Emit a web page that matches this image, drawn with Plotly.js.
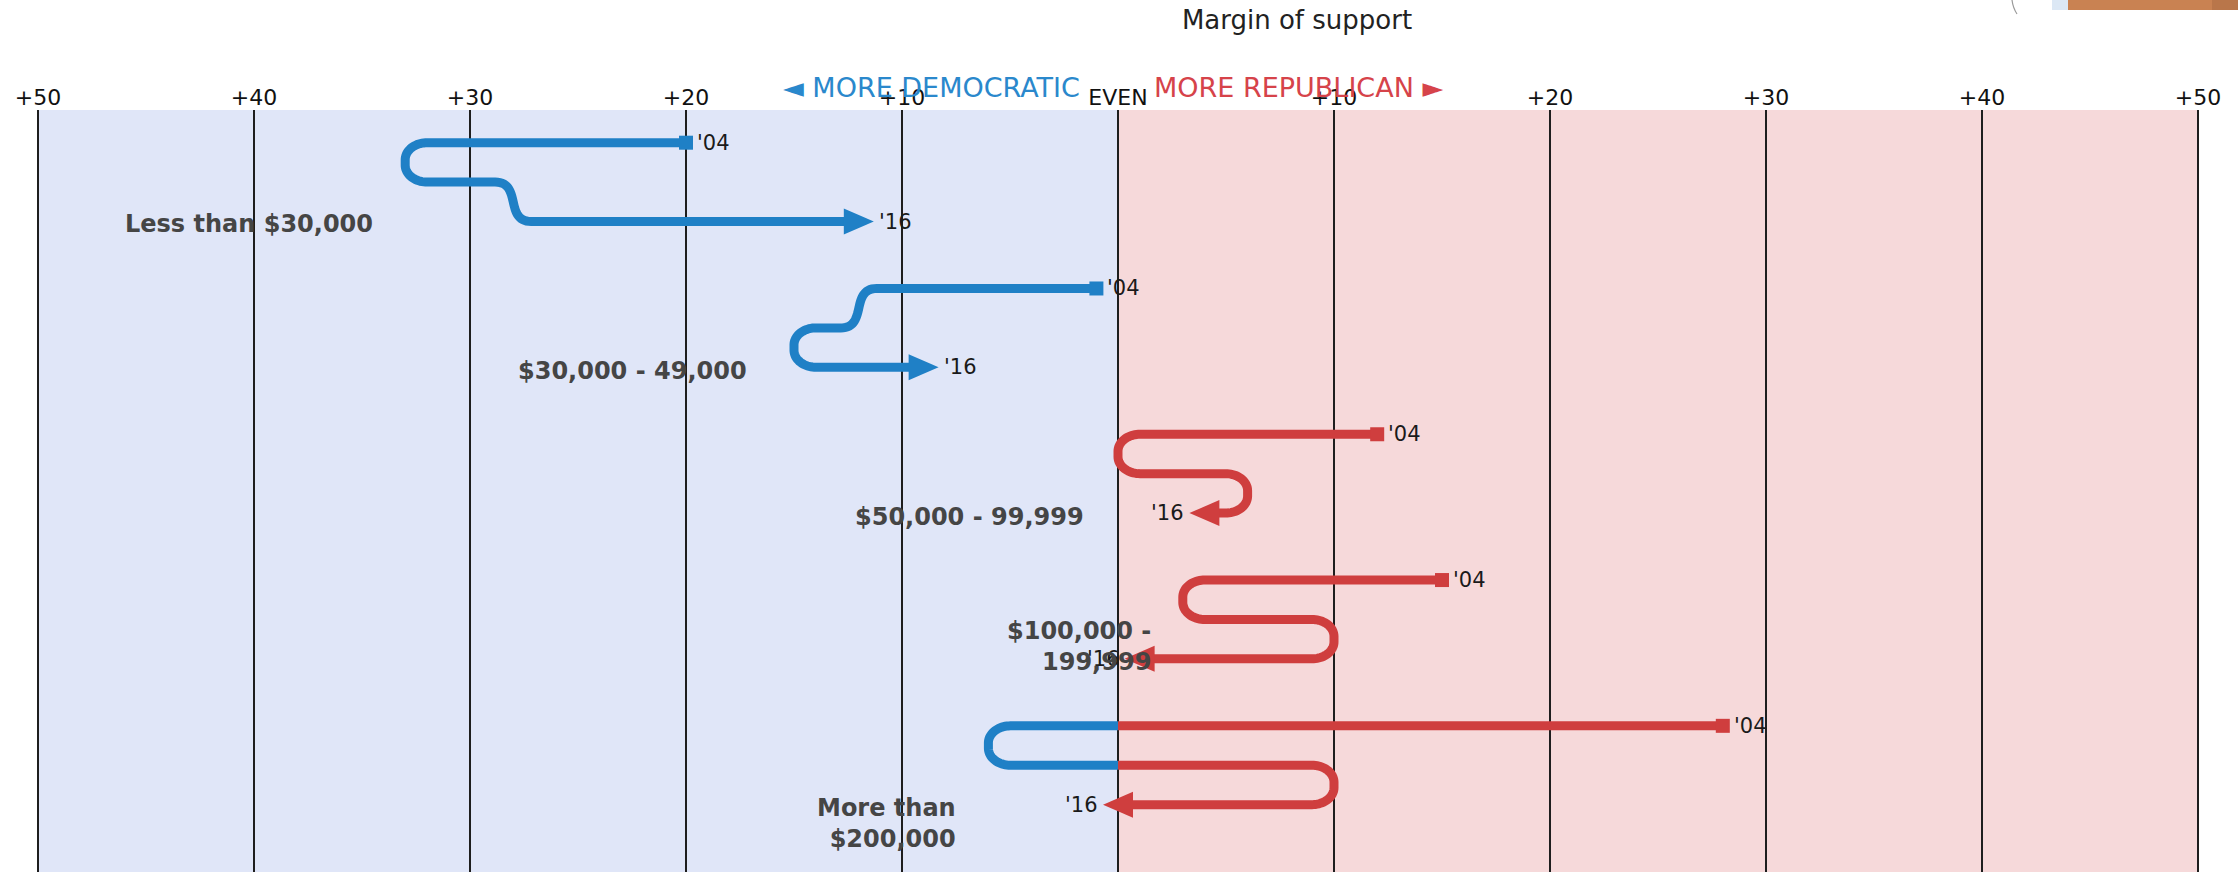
<!DOCTYPE html>
<html><head><meta charset="utf-8">
<script src="https://cdn.plot.ly/plotly-3.0.1.min.js"></script>
<style>html,body{margin:0;padding:0;background:#fff;}#chart{width:2238px;height:872px;}</style>
</head><body><div id="chart"></div>
<script>
// ---------- data ----------
const incomeGroups = ["Less than $30,000", "$30,000 - 49,000", "$50,000 - 99,999", "$100,000 -<br>199,999", "More than<br>$200,000"];
const margin2004 = [-20, -1, 12, 15, 28];   // negative = more Democratic, positive = more Republican
const margin2008 = [-33, -12, 0, 3, -6];
const margin2012 = [-28, -15, 6, 10, 10];
const margin2016 = [-12, -9, 4, 1, 0];
const tickValues = [-50, -40, -30, -20, -10, 0, 10, 20, 30, 40, 50];
const tickLabels = ["+50", "+40", "+30", "+20", "+10", "EVEN", "+10", "+20", "+30", "+40", "+50"];
const startLabel = "'04";
const endLabel = "'16";

// ---------- layout / style ----------
const W = 2238, H = 872, M = {l: 36, r: 38, t: 110, b: 0};
const edgePad = 2 / 21.6;
const xRange = [-50 - edgePad, 50 + edgePad];
const yRange = [18.51, -0.83];
const groupStep = 3.7;
const labelAnchorX = [-34.4, -17.1, -1.5, 1.6, -7.4];
const labelRowOffset = [2.06, 2.09, 2.1, 1.69, 2.49];
const BLUE = '#1f80c6', RED = '#cf3e3e';
const FONT = '"DejaVu Sans", Verdana, sans-serif';
const kx = (W - M.l - M.r) / (xRange[1] - xRange[0]);
const ky = (H - M.t - M.b) / (yRange[0] - yRange[1]);
const RX = 22, RY = 17, SW = 18, AH = 15, AW = 13, LW = 9;

function buildPath(vals, base) {
  const rows = [0, 1, 2].map(r => (base + r) * ky);
  const pts = [[vals[0] * kx, rows[0]]];
  for (let k = 1; k <= 2; k++) {
    const V = vals[k] * kx;
    const d = Math.sign(vals[k] - vals[k - 1]) || 1;
    const dn = Math.sign(vals[k + 1] - vals[k]) || 1;
    const yA = rows[k - 1], yB = rows[k];
    if (dn === d) {
      const P0 = [V - d * SW, yA], P1 = [V + d * 0.5 * SW, yA], P2 = [V - d * 0.5 * SW, yB], P3 = [V + d * SW, yB];
      for (let i = 0; i <= 30; i++) {
        const t = i / 30, u = 1 - t;
        const a = u * u * u, b = 3 * u * u * t, c = 3 * u * t * t, e = t * t * t;
        pts.push([a * P0[0] + b * P1[0] + c * P2[0] + e * P3[0], a * P0[1] + b * P1[1] + c * P2[1] + e * P3[1]]);
      }
    } else {
      const cx = V - d * RX;
      for (let i = 0; i <= 20; i++) {
        const th = i / 20 * Math.PI / 2;
        pts.push([cx + d * RX * Math.sin(th), yA + RY - RY * Math.cos(th)]);
      }
      for (let i = 0; i <= 20; i++) {
        const th = i / 20 * Math.PI / 2;
        pts.push([cx + d * RX * Math.cos(th), yB - RY + RY * Math.sin(th)]);
      }
    }
  }
  const d3 = Math.sign(vals[3] - vals[2]) || 1;
  pts.push([vals[3] * kx - d3 * (AH - 1), rows[2]]);
  return pts.map(p => [p[0] / kx, p[1] / ky]);
}

function splitBySign(pts) {
  const segs = [];
  const isNeg = x => x < -1e-9;
  let cur = [pts[0]], curNeg = isNeg(pts[0][0]);
  for (let i = 1; i < pts.length; i++) {
    const p = pts[i], neg = isNeg(p[0]);
    if (neg === curNeg) { cur.push(p); continue; }
    const q = pts[i - 1];
    const t = (0 - q[0]) / (p[0] - q[0]);
    const c = [0, q[1] + t * (p[1] - q[1])];
    cur.push(c);
    segs.push({neg: curNeg, pts: cur});
    cur = [c, p]; curNeg = neg;
  }
  segs.push({neg: curNeg, pts: cur});
  return segs;
}

const traces = [];
const annotations = [];
incomeGroups.forEach((g, i) => {
  const vals = [margin2004[i], margin2008[i], margin2012[i], margin2016[i]];
  const base = i * groupStep;
  const path = buildPath(vals, base);
  splitBySign(path).forEach(s => {
    traces.push({
      type: 'scatter', mode: 'lines', hoverinfo: 'skip', showlegend: false,
      x: s.pts.map(p => p[0]), y: s.pts.map(p => p[1]),
      line: {color: s.neg ? BLUE : RED, width: LW, shape: 'linear', simplify: false}
    });
  });
  // '04 square
  traces.push({
    type: 'scatter', mode: 'markers', hoverinfo: 'skip', showlegend: false,
    x: [vals[0]], y: [base],
    marker: {symbol: 'square', size: 14, color: vals[0] < 0 ? BLUE : RED, line: {width: 0}}
  });
  // '16 arrowhead
  const d3 = Math.sign(vals[3] - vals[2]) || 1;
  const tip = vals[3] + d3 * AH / kx, bs = vals[3] - d3 * AH / kx;
  const yr = base + 2;
  traces.push({
    type: 'scatter', mode: 'lines', hoverinfo: 'skip', showlegend: false,
    x: [tip, bs, bs, tip], y: [yr, yr - AW / ky, yr + AW / ky, yr],
    fill: 'toself', fillcolor: vals[3] < 0 ? BLUE : RED,
    line: {width: 0, color: vals[3] < 0 ? BLUE : RED, simplify: false}
  });
  annotations.push({
    x: vals[0], y: base, xref: 'x', yref: 'y', xanchor: 'left', yanchor: 'middle',
    xshift: 9, showarrow: false, text: startLabel,
    font: {family: FONT, size: 21, color: '#1a1a1a'}
  });
  annotations.push({
    x: tip, y: yr, xref: 'x', yref: 'y', xanchor: d3 > 0 ? 'left' : 'right', yanchor: 'middle',
    xshift: d3 * 3, showarrow: false, text: endLabel,
    font: {family: FONT, size: 21, color: '#1a1a1a'}
  });
  annotations.push({
    x: labelAnchorX[i], y: base + labelRowOffset[i], xref: 'x', yref: 'y',
    xanchor: 'right', yanchor: 'middle', align: 'right', showarrow: false,
    text: '<b>' + g + '</b>',
    font: {family: FONT, size: 24, color: '#454545'}
  });
});

const pyPaper = py => (H - M.b - py) / (H - M.t - M.b);
const pxPaper = px => (px - M.l) / (W - M.l - M.r);
annotations.push({
  x: 0, y: pyPaper(88), xref: 'x', yref: 'paper', xanchor: 'right', yanchor: 'middle',
  xshift: -36, showarrow: false, text: '\u25C4 MORE DEMOCRATIC',
  font: {family: FONT, size: 27, color: '#2a88cc'}
});
annotations.push({
  x: 0, y: pyPaper(88), xref: 'x', yref: 'paper', xanchor: 'left', yanchor: 'middle',
  xshift: 34, showarrow: false, text: 'MORE REPUBLICAN \u25BA',
  font: {family: FONT, size: 27, color: '#d6434a'}
});

const shapes = [
  {type: 'rect', xref: 'x', yref: 'paper', x0: -50, x1: 0, y0: 0, y1: 1, fillcolor: '#e0e6f8', line: {width: 0}, layer: 'below'},
  {type: 'rect', xref: 'x', yref: 'paper', x0: 0, x1: 50, y0: 0, y1: 1, fillcolor: '#f6d9da', line: {width: 0}, layer: 'below'},
  // cropped decoration at the top-right corner of the screenshot
  {type: 'path', xref: 'paper', yref: 'paper',
   path: 'M' + pxPaper(2012) + ',' + pyPaper(0) + ' Q' + pxPaper(2013) + ',' + pyPaper(8) + ' ' + pxPaper(2017) + ',' + pyPaper(14),
   line: {color: '#9a9a9a', width: 1.2}},
  {type: 'rect', xref: 'paper', yref: 'paper', x0: pxPaper(2052), x1: pxPaper(2068), y0: pyPaper(10), y1: pyPaper(0), fillcolor: '#dce8f5', line: {width: 0}},
  {type: 'rect', xref: 'paper', yref: 'paper', x0: pxPaper(2068), x1: pxPaper(2238), y0: pyPaper(10), y1: pyPaper(0), fillcolor: '#c98252', line: {width: 0}},
  {type: 'rect', xref: 'paper', yref: 'paper', x0: pxPaper(2212), x1: pxPaper(2238), y0: pyPaper(10), y1: pyPaper(0), fillcolor: '#b9764a', line: {width: 0}}
];

const layout = {
  width: W, height: H, margin: M,
  paper_bgcolor: '#ffffff', plot_bgcolor: '#ffffff',
  showlegend: false,
  title: {text: 'Margin of support', x: 1297 / W, xanchor: 'center', y: 1 - 20 / H, yanchor: 'middle',
          font: {family: FONT, size: 26, color: '#222'}},
  xaxis: {range: xRange, side: 'top', tickmode: 'array', tickvals: tickValues, ticktext: tickLabels,
          showgrid: true, gridcolor: '#1e1e1e', gridwidth: 2, zeroline: false, showline: false,
          ticks: '', tickfont: {family: FONT, size: 22, color: '#111'}, fixedrange: true},
  yaxis: {range: yRange, visible: false, showgrid: false, zeroline: false, fixedrange: true},
  shapes: shapes,
  annotations: annotations
};

Plotly.newPlot('chart', traces, layout, {staticPlot: true, displayModeBar: false});
</script></body></html>
